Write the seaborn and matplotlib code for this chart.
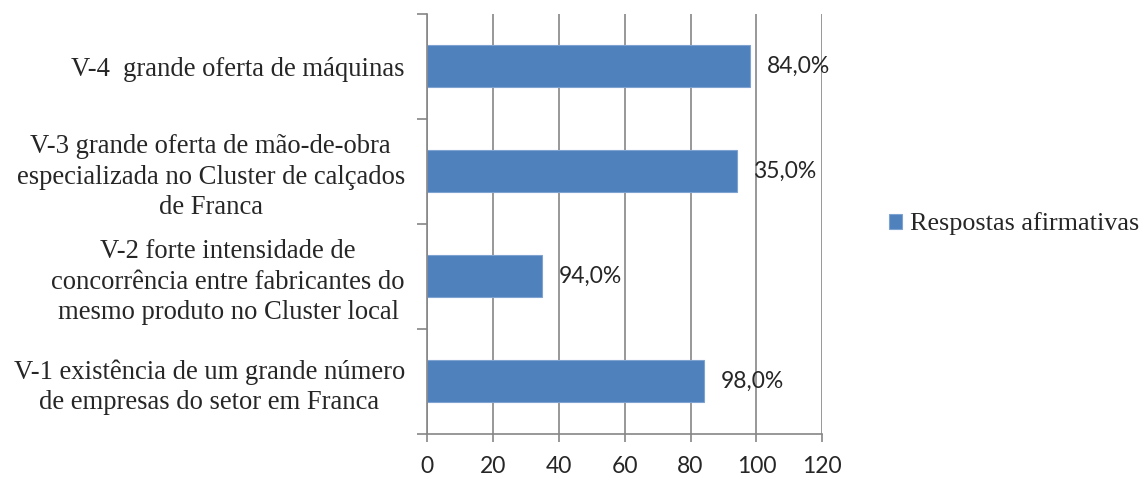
import seaborn as sns
import matplotlib.pyplot as plt
import pandas as pd

# data (top to bottom)
categories = [
    "V-4  grande oferta de máquinas",
    "V-3 grande oferta de mão-de-obra\nespecializada no Cluster de calçados\nde Franca",
    "V-2 forte intensidade de\nconcorrência entre fabricantes do\nmesmo produto no Cluster local",
    "V-1 existência de um grande número\nde empresas do setor em Franca",
]
values = [98, 94, 35, 84]
value_labels = ["84,0%", "35,0%", "94,0%", "98,0%"]
series = "Respostas afirmativas"

df = pd.DataFrame({"cat": categories, "val": values, "serie": series})

sns.set_style("white")
serif = ["Liberation Serif", "DejaVu Serif"]
sans = ["Lato", "DejaVu Sans"]
grid_col = "#868686"

fig = plt.figure(figsize=(11.42, 4.79), dpi=100)
ax = fig.add_axes([0.374, 0.094, 0.346, 0.877])

sns.barplot(data=df, x="val", y="cat", hue="serie", palette=["#4F81BD"],
            orient="h", width=0.4, saturation=1, edgecolor="#7FA3D1",
            linewidth=0.8, ax=ax, legend=True)

ax.set_xlim(0, 120)
ax.set_ylim(3.5, -0.5)
ax.set_xticks(range(0, 121, 20))
ax.set_xlabel("")
ax.set_ylabel("")
ax.xaxis.grid(True, color=grid_col, linewidth=1.2)
ax.set_axisbelow(True)

for s in ["top", "right"]:
    ax.spines[s].set_visible(False)
for s in ["left", "bottom"]:
    ax.spines[s].set_color(grid_col)
    ax.spines[s].set_linewidth(1.2)

ax.tick_params(axis="x", bottom=True, length=6, color=grid_col, width=1.2, pad=10)
for t in ax.get_xticklabels():
    t.set_fontfamily(sans)
    t.set_fontsize(16.5)

# y: labels at centres, tick marks at category boundaries
ax.set_yticks(range(len(categories)))
ax.set_yticklabels(categories, fontfamily=serif, fontsize=19.2,
                   multialignment="center", linespacing=1.28)
ax.tick_params(axis="y", which="major", left=False, length=0, pad=16)
ax.set_yticks([i - 0.5 for i in range(len(categories) + 1)], minor=True)
ax.tick_params(axis="y", which="minor", left=True, length=7,
               color=grid_col, width=1.2)

ax.bar_label(ax.containers[0], labels=value_labels, padding=12,
             fontfamily=sans, fontsize=16.5)

ax.legend(loc="center left", bbox_to_anchor=(1.142, 0.5), frameon=False,
          prop={"family": serif, "size": 18.8}, handlelength=0.5,
          handleheight=0.5, handletextpad=0.3, borderaxespad=0)

fig.savefig("out.png", dpi=100)
